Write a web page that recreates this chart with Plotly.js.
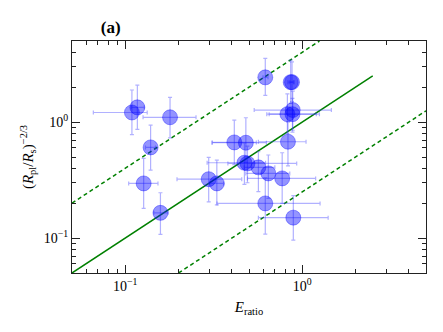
<!DOCTYPE html>
<html>
<head>
<meta charset="utf-8">
<script src="https://cdn.plot.ly/plotly-3.0.1.min.js"></script>
<style>
  html, body { margin: 0; padding: 0; background: #fff; }
  #plot { width: 443px; height: 332px; }
</style>
</head>
<body>
<div id="plot"></div>
<script>
// Measured points (E_ratio vs (Rpl/Rs)^-2/3) with asymmetric error bounds
let xVals = [0.109, 0.117, 0.179, 0.139, 0.127, 0.158, 0.618, 0.86, 0.875, 0.883, 0.824, 0.88,
             0.83, 0.413, 0.48, 0.471, 0.49, 0.565, 0.643, 0.77, 0.296, 0.329, 0.618, 0.89];
let xLo   = [0.066, 0.108, 0.126, 0.13, 0.1045, 0.145, 0.6, 0.83, 0.85, 0.535, 0.63, 0.65,
             0.565, 0.31, 0.309, 0.29, 0.38, 0.47, 0.48, 0.49, 0.196, 0.30, 0.33, 0.565];
let xHi   = [0.133, 0.128, 0.251, 0.148, 0.153, 0.175, 0.64, 0.89, 0.9, 1.46, 1.25, 1.2,
             1.05, 0.55, 0.627, 0.62, 0.93, 0.7, 0.85, 1.19, 0.455, 0.36, 1.26, 1.40];
let yVals = [1.21, 1.34, 1.10, 0.605, 0.296, 0.165, 2.43, 2.21, 2.21, 1.27, 1.17, 1.17,
             0.677, 0.668, 0.664, 0.446, 0.44, 0.407, 0.361, 0.327, 0.322, 0.296, 0.199, 0.15];
let yLo   = [0.78, 0.865, 0.73, 0.386, 0.18, 0.1076, 1.70, 1.45, 1.5, 0.85, 0.8, 0.82,
             0.42, 0.43, 0.45, 0.29, 0.30, 0.251, 0.22, 0.199, 0.205, 0.193, 0.108, 0.096];
let yHi   = [1.89, 2.08, 1.63, 0.94, 0.486, 0.246, 3.54, 3.42, 3.3, 1.85, 1.75, 1.6,
             1.0, 1.04, 1.09, 0.66, 0.62, 0.555, 0.52, 0.544, 0.496, 0.47, 0.33, 0.232];

// Reference lines y = x, y = 4x, y = x/4
let oneToOneX = [0.05, 2.5];
let upperX = [0.05, 1.25];
let lowerX = [0.2, 5];

// Tick positions
let majorTicks = [0.1, 1];
let majorText = ["10<sup>\u22121</sup>", "10<sup>0</sup>"];
let xMinor = [0.06, 0.07, 0.08, 0.09, 0.2, 0.3, 0.4, 0.5, 0.6, 0.7, 0.8, 0.9, 2, 3, 4, 5];
let yMinor = [0.05, 0.06, 0.07, 0.08, 0.09, 0.2, 0.3, 0.4, 0.5, 0.6, 0.7, 0.8, 0.9, 2, 3, 4, 5];

let green = "#008000";
let serif = "Liberation Serif";

let points = {
  x: xVals,
  y: yVals,
  mode: "markers",
  type: "scatter",
  marker: {
    size: 15,
    color: "rgba(0,0,255,0.42)",
    line: { color: "rgba(0,0,255,0.35)", width: 1 }
  },
  error_x: {
    type: "data",
    symmetric: false,
    array: xHi.map((v, i) => v - xVals[i]),
    arrayminus: xLo.map((v, i) => xVals[i] - v),
    color: "rgba(60,60,255,0.4)",
    thickness: 1.2,
    width: 2
  },
  error_y: {
    type: "data",
    symmetric: false,
    array: yHi.map((v, i) => v - yVals[i]),
    arrayminus: yLo.map((v, i) => yVals[i] - v),
    color: "rgba(60,60,255,0.4)",
    thickness: 1.2,
    width: 2
  },
  showlegend: false
};

let line1 = {
  x: oneToOneX, y: oneToOneX, mode: "lines", type: "scatter",
  line: { color: green, width: 1.5 }, showlegend: false
};
let line2 = {
  x: upperX, y: upperX.map(v => v * 4), mode: "lines", type: "scatter",
  line: { color: green, width: 1.5, dash: "4px,3px" }, showlegend: false
};
let line3 = {
  x: lowerX, y: lowerX.map(v => v / 4), mode: "lines", type: "scatter",
  line: { color: green, width: 1.5, dash: "4px,3px" }, showlegend: false
};

let axisCommon = {
  type: "log",
  showgrid: false,
  zeroline: false,
  showline: true,
  linecolor: "#222",
  linewidth: 1,
  mirror: "allticks",
  ticks: "inside",
  ticklen: 8,
  tickwidth: 1,
  tickcolor: "#222",
  tickmode: "array",
  tickvals: majorTicks,
  ticktext: majorText,
  tickfont: { family: serif, size: 14, color: "#000" }
};

let layout = {
  width: 443,
  height: 332,
  margin: { l: 72, r: 17, t: 41, b: 59 },
  paper_bgcolor: "#fff",
  plot_bgcolor: "#fff",
  font: { family: serif, color: "#000" },
  title: {
    text: "<b>(a)</b>",
    x: 36 / 443, xanchor: "left", xref: "paper",
    y: 1 - 27 / 332, yanchor: "middle",
    font: { family: serif, size: 17, color: "#000" }
  },
  xaxis: Object.assign({}, axisCommon, {
    range: [Math.log10(0.05), Math.log10(5)],
    minor: { tickmode: "array", tickvals: xMinor, ticks: "inside", ticklen: 4, tickcolor: "#222", showgrid: false },
    title: { text: "<i>E</i><sub>ratio</sub>", font: { family: serif, size: 15 }, standoff: 8 }
  }),
  yaxis: Object.assign({}, axisCommon, {
    range: [Math.log10(0.05), Math.log10(5)],
    minor: { tickmode: "array", tickvals: yMinor, ticks: "inside", ticklen: 4, tickcolor: "#222", showgrid: false },
    title: { text: "(<i>R</i><sub>pl</sub>/<i>R</i><sub>s</sub>)<sup>\u22122/3</sup>", font: { family: serif, size: 15 }, standoff: 6 }
  })
};

Plotly.newPlot("plot", [line1, line2, line3, points], layout, { displayModeBar: false, staticPlot: true });
</script>
</body>
</html>
